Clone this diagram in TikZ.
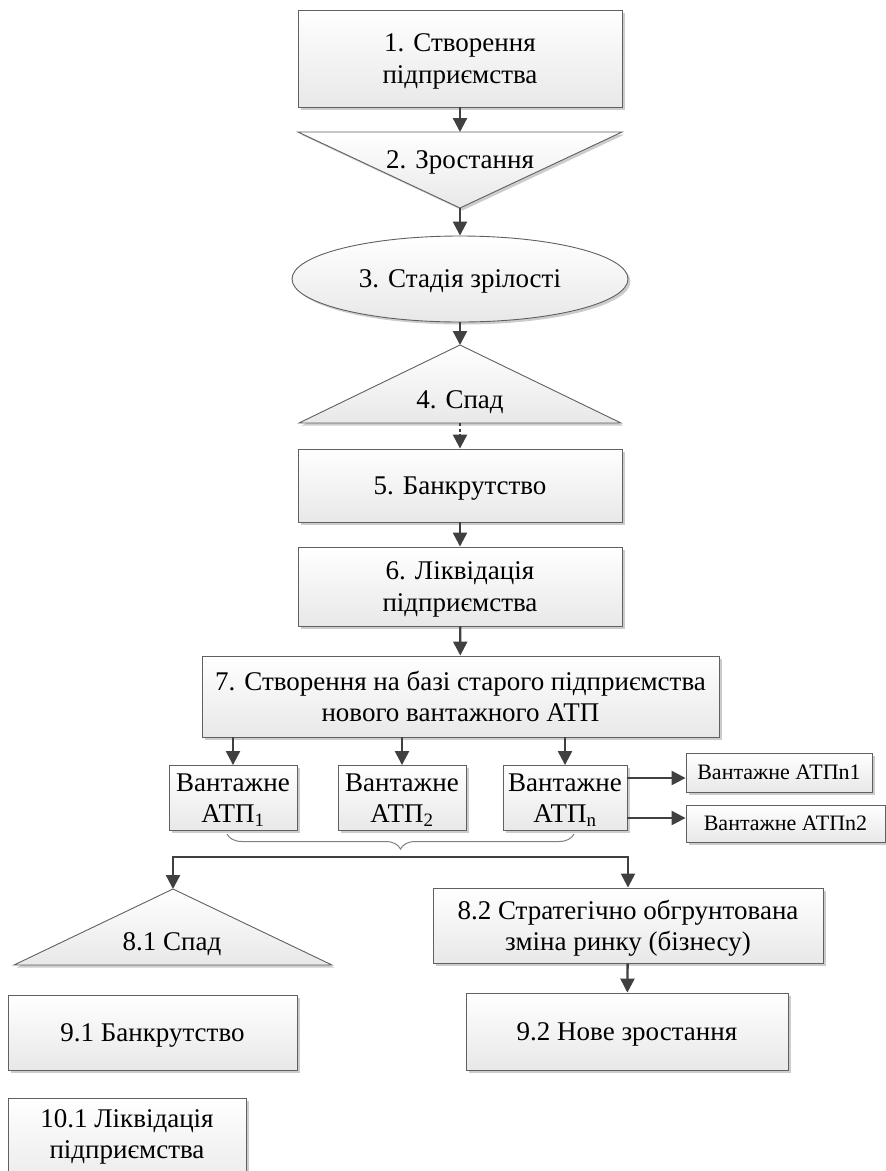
\documentclass[tikz,border=0pt]{standalone}
\usepackage{fontspec}
\setmainfont{Liberation Serif}
\usetikzlibrary{shapes.geometric,shadows,arrows.meta,decorations.pathreplacing}

\definecolor{linegray}{HTML}{404040}
\definecolor{bordergray}{HTML}{606060}
\definecolor{fillgray}{HTML}{E8E8E8}

\begin{document}
\begin{tikzpicture}[x=1pt, y=-1pt,
    every node/.style={font=\fontsize{27}{31.5}\selectfont, align=center, inner sep=0pt, text depth=0pt},
    shade/.style={top color=white, bottom color=fillgray,
        drop shadow={shadow xshift=2.5pt, shadow yshift=-2.5pt, opacity=0.2, fill=black}},
    box/.style={shade, draw=bordergray, line width=0.9pt},
    tri/.style={shade, draw=bordergray, line width=0.9pt},
    arr/.style={draw=linegray, line width=2.3pt, -{Triangle[length=14pt, width=14pt]}},
    small/.style={font=\fontsize{22}{26}\selectfont},
    brace/.style={draw=gray, line width=1pt, decorate, decoration={brace, mirror, amplitude=15pt}}]

    \path[use as bounding box, fill=white] (0, 0) rectangle (886, 1171);

    \node[box, minimum width=324, minimum height=97] (s1) at (460, 58.5) {1. Створення\\підприємства};

    \coordinate (s2top) at (460, 132);
    \coordinate (s2tip) at (460, 208);
    \draw[tri] (298, 132) -- (622, 132) -- (s2tip) -- cycle;
    \node (s2) at (460, 160) {2. Зростання};

    \node[box, ellipse, minimum width=336, minimum height=86] (s3) at (460, 279) {3. Стадія зрілості};

    \coordinate (s4tip) at (460, 345);
    \coordinate (s4base) at (460, 423);
    \draw[tri] (s4tip) -- (621, 423) -- (299, 423) -- cycle;
    \node (s4) at (460, 400) {4. Спад};

    \node[box, minimum width=324, minimum height=73] (s5) at (460, 485.5) {5. Банкрутство};
    \node[box, minimum width=324, minimum height=79] (s6) at (460, 586.5) {6. Ліквідація\\підприємства};
    \node[box, minimum width=517, minimum height=81] (s7) at (460.5, 696.5)
        {7. Створення на базі старого підприємства\\нового вантажного АТП};

    \node[box, minimum width=128, minimum height=65] (a1) at (233, 798) {Вантажне\\АТП\textsubscript{1}};
    \node[box, minimum width=128, minimum height=65] (a2) at (402, 798) {Вантажне\\АТП\textsubscript{2}};
    \node[box, minimum width=124, minimum height=65] (an) at (565, 798) {Вантажне\\АТП\textsubscript{n}};
    \node[box, small, minimum width=186, minimum height=39] (an1) at (779, 772.5) {Вантажне АТПn1};
    \node[box, small, minimum width=199, minimum height=37] (an2) at (785.5, 823.5) {Вантажне АТПn2};

    \coordinate (br1) at (227, 834);
    \coordinate (br2) at (574, 834);
    \coordinate (fork) at (401, 857);

    \coordinate (s81tip) at (173, 889);
    \draw[tri] (s81tip) -- (332, 965) -- (14, 965) -- cycle;
    \node (s81) at (172, 942) {8.1 Спад};

    \node[box, minimum width=390, minimum height=75] (s82) at (628, 925.5)
        {8.2 Стратегічно обгрунтована\\зміна ринку (бізнесу)};

    \node[box, minimum width=289, minimum height=75] (s91) at (152.5, 1032.5) {9.1 Банкрутство};
    \node[box, minimum width=322, minimum height=77] (s92) at (627, 1031.5) {9.2 Нове зростання};
    \draw[box] (8, 1098) rectangle (246, 1195);
    \node (s101) at (127, 1134) {10.1 Ліквідація\\підприємства};

    \draw[arr] (s1) -- (s2top);
    \draw[arr] (s2tip) -- (s3);
    \draw[arr] (s3) -- (s4tip);
    \draw[arr, dash pattern=on 3pt off 2.5pt] (s4base) -- (s5);
    \draw[arr] (s5) -- (s6);
    \draw[arr] (s6) -- (s7);

    \draw[arr] (s7.south -| a1) -- (a1);
    \draw[arr] (s7.south -| a2) -- (a2);
    \draw[arr] (s7.south -| an) -- (an);
    \draw[arr] ([yshift=20pt]an.east) -- ([yshift=20pt]an.east -| an1.west);
    \draw[arr] ([yshift=-20pt]an.east) -- ([yshift=-20pt]an.east -| an2.west);

    \draw[brace] (br1) -- (br2);
    \draw[arr] (fork) -| (s81tip);
    \draw[arr] (fork) -| (s82);
    \draw[arr] (s82) -- (s92);
\end{tikzpicture}
\end{document}
